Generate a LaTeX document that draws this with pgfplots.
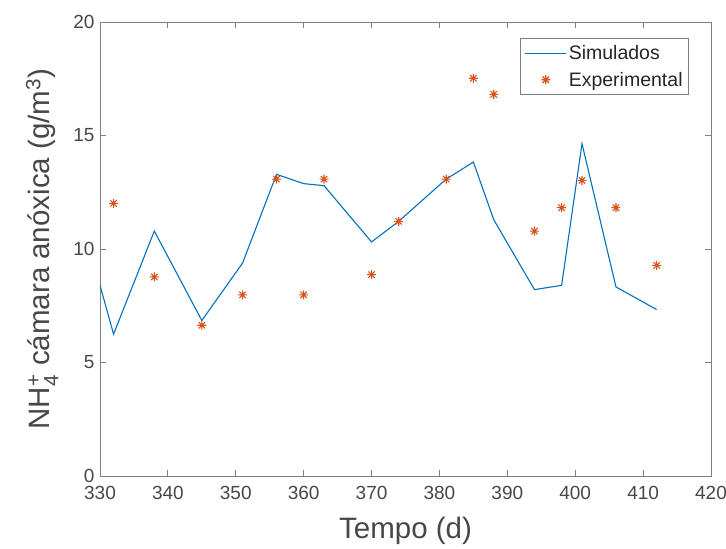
\documentclass[border=0pt]{standalone}
\usepackage{pgfplots}
\pgfplotsset{compat=1.18}
\usepackage{amsmath}
\usepackage{fontspec}
\setmainfont{Liberation Sans}
\definecolor{mblue}{rgb}{0,0.447,0.741}
\definecolor{morange}{rgb}{0.85,0.325,0.098}
\definecolor{axgray}{rgb}{0.15,0.15,0.15}
\pgfdeclareplotmark{mstar}{%
  \pgfpathmoveto{\pgfqpoint{-\pgfplotmarksize}{0pt}}\pgfpathlineto{\pgfqpoint{\pgfplotmarksize}{0pt}}%
  \pgfpathmoveto{\pgfqpoint{0pt}{-\pgfplotmarksize}}\pgfpathlineto{\pgfqpoint{0pt}{\pgfplotmarksize}}%
  \pgfpathmoveto{\pgfqpoint{-0.707\pgfplotmarksize}{-0.707\pgfplotmarksize}}\pgfpathlineto{\pgfqpoint{0.707\pgfplotmarksize}{0.707\pgfplotmarksize}}%
  \pgfpathmoveto{\pgfqpoint{-0.707\pgfplotmarksize}{0.707\pgfplotmarksize}}\pgfpathlineto{\pgfqpoint{0.707\pgfplotmarksize}{-0.707\pgfplotmarksize}}%
  \pgfusepathqstroke}
\begin{document}
\begin{tikzpicture}
\path[use as bounding box] (-100pt,-73pt) rectangle (626pt,476pt);
\begin{axis}[
  at={(0,0)}, anchor=south west,
  scale only axis, width=611pt, height=454pt,
  xmin=330, xmax=420, ymin=0, ymax=20,
  xtick={330,340,...,420}, ytick={0,5,...,20},
  tick align=inside, major tick length=6pt,
  axis line style={draw=black!50, line width=0.8pt},
  tick style={draw=black!50, line width=0.8pt},
  ticklabel style={font=\fontsize{19}{22}\selectfont, text=axgray!85},
  /pgf/number format/assume math mode=true,
  /pgf/number format/1000 sep={},
  xticklabel style={yshift=-7pt},
  yticklabel style={xshift=-2pt},
  xlabel={Tempo (d)},
  ylabel={NH$^{\text{+}}_{\text{4}}$ cámara anóxica (g/m$^{\text{3}}$)},
  label style={font=\fontsize{29.5}{34}\selectfont, text=axgray!85},
  xlabel style={yshift=-10pt},
  ylabel style={yshift=8pt},
  legend style={at={(0.964,0.965)}, anchor=north east, draw=black!50, line width=0.8pt,
    font=\fontsize{19.5}{23}\selectfont, text=axgray, inner xsep=4pt, inner ysep=5pt,
    row sep=7pt},
  legend cell align=left,
  legend image code/.code={\draw[#1] (0pt,0pt) -- (41pt,0pt);},
]
\addplot[mblue, line width=1.1pt, mark=none] coordinates {
(330,8.40) (332,6.25) (338,10.79) (345,6.85) (351,9.38) (356,13.29) (360,12.88)
(363,12.79) (370,10.31) (374,11.22) (381,13.08) (385,13.83) (388,11.29)
(394,8.21) (398,8.40) (401,14.64) (406,8.33) (412,7.33)};
\addlegendentry{Simulados}
\addplot[only marks, mark=mstar, mark size=4.5pt, draw=morange, line width=1.1pt,
  legend image code/.code={\draw[mark repeat=1] plot[mark=mstar, mark size=4.5pt] coordinates {(20.5pt,0pt)};}] coordinates {
(332,12.01) (338,8.77) (345,6.64) (351,7.98) (356,13.08) (360,7.98) (363,13.08)
(370,8.87) (374,11.22) (381,13.08) (385,17.52) (388,16.81) (394,10.79)
(398,11.82) (401,13.02) (406,11.82) (412,9.28)};
\addlegendentry{Experimental}
\end{axis}
\end{tikzpicture}
\end{document}
